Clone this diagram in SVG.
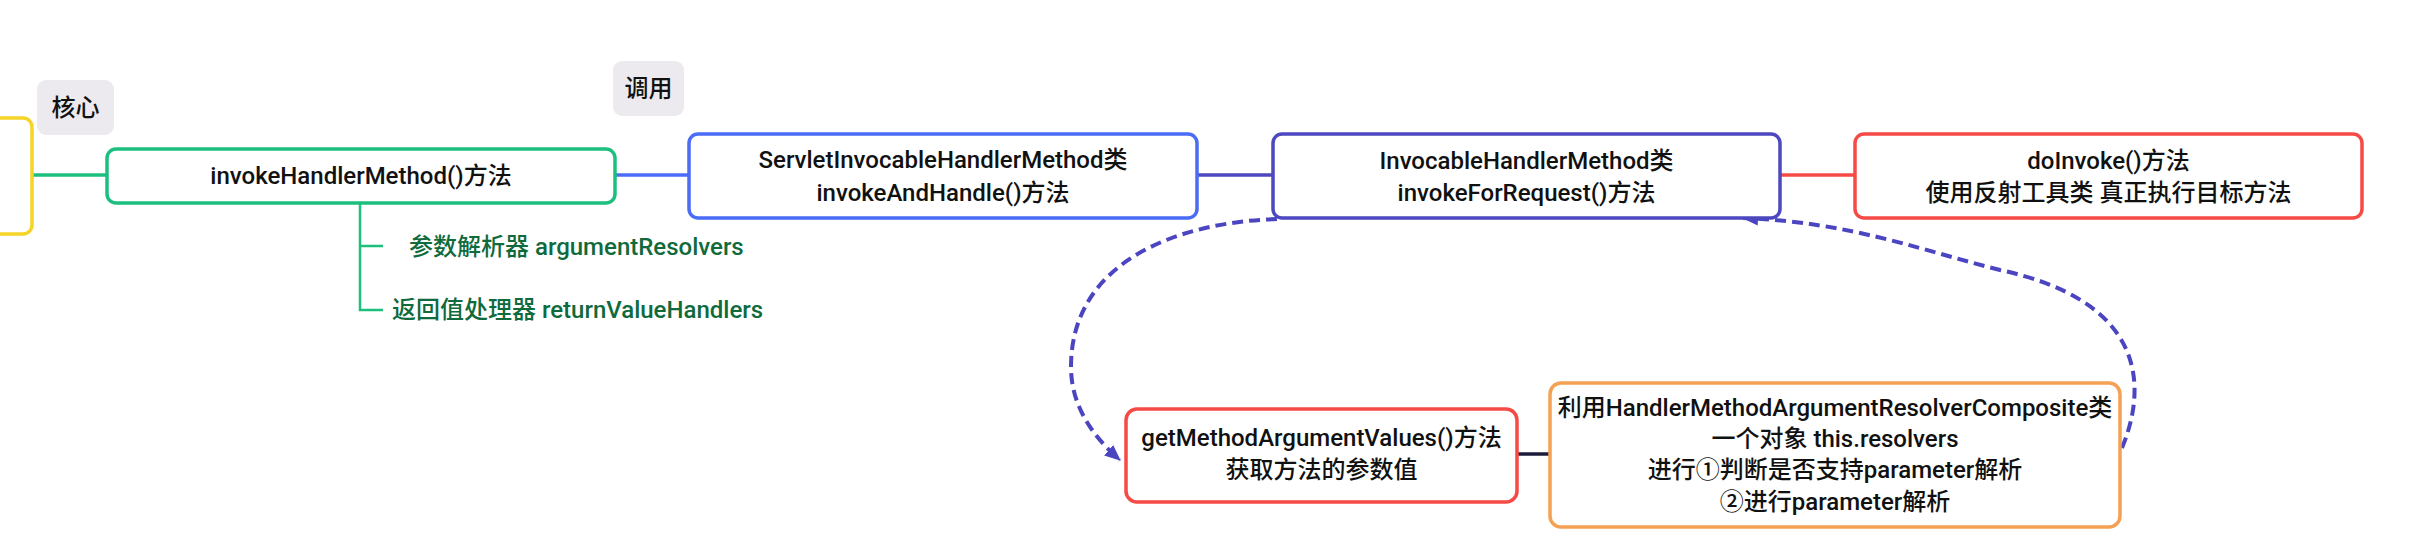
<svg xmlns="http://www.w3.org/2000/svg" width="2409" height="545" viewBox="0 0 2409 545">
<defs>
<style>
.t{font-family:Roboto,"Noto Sans CJK SC",sans-serif;font-size:24px;font-weight:500;fill:#111;text-anchor:middle}
.g{font-family:Roboto,"Noto Sans CJK SC",sans-serif;font-size:24px;font-weight:500;fill:#0f6a3c}
.box{fill:#fff;stroke-width:3.5}
.lab{fill:#eceaee}
.ln{fill:none;stroke-width:3.5}
.dash{fill:none;stroke:#4b45c2;stroke-width:4;stroke-dasharray:11 6}
</style>
<marker id="arr" markerUnits="userSpaceOnUse" viewBox="0 0 16 14" refX="15" refY="7" markerWidth="16" markerHeight="14" orient="auto">
<path d="M0,0 L16,7 L0,14 z" fill="#4b45c2"/>
</marker>
</defs>
<rect width="2409" height="545" fill="#fff"/>

<g id="connectors">
<line class="ln" x1="32" y1="175" x2="107" y2="175" stroke="#1cbf7e"/>
<line class="ln" x1="615" y1="175" x2="689" y2="175" stroke="#4a6cf7"/>
<line class="ln" x1="1197" y1="175" x2="1273" y2="175" stroke="#4e48c0"/>
<line class="ln" x1="1780" y1="175" x2="1855" y2="175" stroke="#f54a45"/>
<line class="ln" x1="1517" y1="454" x2="1550" y2="454" stroke="#1b1b3a"/>
<path fill="none" stroke="#1cbf7e" stroke-width="2.5" d="M360,203 V310 H383 M360,246 H383"/>
<path class="dash" d="M1277,219 C1180,222 1071,260 1071,367 C1071,405 1092,436 1120,460" marker-end="url(#arr)"/>
<path class="dash" d="M2122,448 C2150,380 2140,300 2000,270 C1920,250 1850,222 1743,218" marker-end="url(#arr)"/>
</g>

<g id="root">
<rect class="box" x="-50" y="118" width="82" height="116" rx="9" stroke="#f5d328"/>
</g>

<g id="label-core">
<rect class="lab" x="37" y="80" width="77" height="55" rx="9"/>
<text class="t" x="75.5" y="116">核心</text>
</g>

<g id="label-call">
<rect class="lab" x="613" y="61" width="71" height="55" rx="9"/>
<text class="t" x="648.5" y="97">调用</text>
</g>

<g id="invokeHandlerMethod">
<rect class="box" x="107" y="149" width="508" height="54" rx="9" stroke="#1cbf7e"/>
<text class="t" x="361" y="184">invokeHandlerMethod()方法</text>
</g>

<g id="argumentResolvers">
<text class="g" x="409" y="255">参数解析器 argumentResolvers</text>
</g>

<g id="returnValueHandlers">
<text class="g" x="392" y="318">返回值处理器 returnValueHandlers</text>
</g>

<g id="servletInvocable">
<rect class="box" x="689" y="134" width="508" height="84" rx="9" stroke="#4a6cf7"/>
<text class="t" x="943" y="168">ServletInvocableHandlerMethod类</text>
<text class="t" x="943" y="201">invokeAndHandle()方法</text>
</g>

<g id="invocable">
<rect class="box" x="1273" y="134" width="507" height="84" rx="9" stroke="#4e48c0"/>
<text class="t" x="1526.5" y="169">InvocableHandlerMethod类</text>
<text class="t" x="1526.5" y="201">invokeForRequest()方法</text>
</g>

<g id="doInvoke">
<rect class="box" x="1855" y="134" width="507" height="84" rx="9" stroke="#f54a45"/>
<text class="t" x="2108.5" y="169">doInvoke()方法</text>
<text class="t" x="2108.5" y="201">使用反射工具类 真正执行目标方法</text>
</g>

<g id="getMethodArgumentValues">
<rect class="box" x="1126" y="409" width="391" height="93" rx="11" stroke="#f54a45"/>
<text class="t" x="1321.5" y="446">getMethodArgumentValues()方法</text>
<text class="t" x="1321.5" y="478">获取方法的参数值</text>
</g>

<g id="resolverComposite">
<rect class="box" x="1550" y="383" width="570" height="144" rx="11" stroke="#f4a153"/>
<text class="t" x="1835" y="416">利用HandlerMethodArgumentResolverComposite类</text>
<text class="t" x="1835" y="447">一个对象 this.resolvers</text>
<text class="t" x="1835" y="478">进行①判断是否支持parameter解析</text>
<text class="t" x="1835" y="510">②进行parameter解析</text>
</g>
</svg>
